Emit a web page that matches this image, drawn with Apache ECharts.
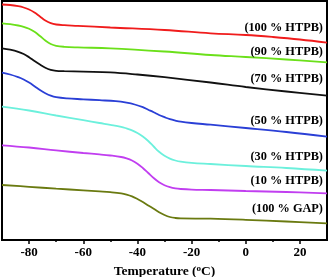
<!DOCTYPE html>
<html>
<head>
<meta charset="utf-8">
<script src="https://cdn.jsdelivr.net/npm/echarts@6/dist/echarts.min.js"></script>
<style>html,body{margin:0;padding:0;background:#fff}#c{width:330px;height:277px}</style>
</head>
<body>
<div id="c"></div>
<script>
var seriesNames = ['(100 % HTPB)', '(90 % HTPB)', '(70 % HTPB)', '(50 % HTPB)', '(30 % HTPB)', '(10 % HTPB)', '(100 % GAP)'];
var majorTicks = [-80, -60, -40, -20, 0, 20];
var minorTicks = [-70, -50, -30, -10, 10];

var htpb100 = [[-90,235.5],[-87,235],[-84,233.8],[-82,232.5],[-80,230.5],[-78,227.5],[-76,223.5],[-74,219.5],[-72,216.8],[-70,215.5],[-67,214.8],[-62,214.2],[-50,212.5],[-30,210],[-13,206.7],[0,205],[10,203],[20,200.5],[30,197.3]];
var htpb90 = [[-90,216.7],[-87,215.8],[-84,214.5],[-82,213.2],[-80,211.2],[-78,208.2],[-76,204],[-74,199.5],[-72,196],[-70,194.2],[-67,193.2],[-62,192.6],[-50,191.7],[-30,188.5],[-13,185],[0,183],[15,180.5],[30,177.7]];
var htpb70 = [[-90,191.7],[-87,190.3],[-84,188.2],[-82,186],[-80,182.8],[-78,179],[-76,175.5],[-74,172.3],[-72,170.2],[-70,169.2],[-67,168.8],[-60,168.3],[-50,167.6],[-40,165.5],[-30,162.8],[-13,157.5],[0,153],[15,148.5],[30,144.3]];
var htpb50 = [[-90,167.3],[-87,165.5],[-84,162.8],[-82,160.5],[-80,157.5],[-78,153.8],[-76,150],[-74,146.8],[-72,144.3],[-70,142.8],[-66,141.6],[-60,140.7],[-54,139.8],[-48,138.8],[-44,137.3],[-41,135.5],[-38,132.8],[-36,130.3],[-34,127.8],[-32,125],[-30,122.8],[-28,120.8],[-26,119.4],[-24,118.3],[-20,117],[-13,115.3],[0,112],[15,108],[30,103.3]];
var htpb30 = [[-90,133.3],[-80,129.5],[-70,124.5],[-60,119.8],[-54,117],[-50,115.2],[-46,113.2],[-44,111.6],[-42,109.7],[-40,107],[-38,103.5],[-36,99],[-34,93.5],[-32,88.2],[-30,84.3],[-28,81.4],[-26,79.5],[-24,78.3],[-20,77.1],[-13,76],[0,74],[15,72],[30,69.3]];
var htpb10 = [[-90,94.7],[-80,92.5],[-70,89.6],[-60,87],[-54,85.6],[-50,84.5],[-46,83],[-44,81.6],[-42,79.5],[-40,76.3],[-38,72],[-36,67],[-34,62],[-32,57.8],[-30,54.8],[-28,52.8],[-26,51.6],[-24,51],[-20,50.4],[-13,50],[0,49],[15,48],[30,46.7]];
var gap100 = [[-90,55],[-80,53.2],[-70,51.3],[-60,49.7],[-54,48.6],[-50,47.8],[-46,46.6],[-44,45.4],[-42,43.6],[-40,41],[-38,38],[-36,34.6],[-34,31.2],[-32,27.8],[-30,25],[-28,23],[-26,22],[-24,21.6],[-13,21.3],[0,20.2],[15,18.5],[30,16.7]];
var labelAnchors = [[28.5,212],[28.5,188.3],[28.5,161],[28.5,119.3],[28.5,83.3],[28.5,59],[28.5,30.7]];

var allData = [htpb100, htpb90, htpb70, htpb50, htpb30, htpb10, gap100];
var colors = ['#f01c1c', '#6be01a', '#111111', '#2a3fd6', '#6cf0dc', '#c13ef0', '#6a7a10'];
var font = '"Liberation Serif", "DejaVu Serif", serif';

var series = allData.map(function (d, i) {
  return {
    name: seriesNames[i],
    type: 'line',
    data: d,
    smooth: 0.4,
    showSymbol: false,
    lineStyle: { color: colors[i], width: 1.8 },
    markPoint: {
      symbol: 'circle',
      symbolSize: 0,
      data: [{ coord: labelAnchors[i] }],
      label: {
        show: true,
        formatter: seriesNames[i],
        position: [0, 0],
        align: 'right',
        verticalAlign: 'middle',
        color: '#000',
        fontFamily: font,
        fontWeight: 'bold',
        fontSize: 12.3
      }
    }
  };
});

var chart = echarts.init(document.getElementById('c'), null, { renderer: 'canvas' });
chart.setOption({
  animation: false,
  grid: { left: 2, right: 3, top: 1, bottom: 37, containLabel: false, outerBoundsMode: 'none', show: true, borderColor: '#000', borderWidth: 2, backgroundColor: 'transparent' },
  xAxis: [{
    type: 'value', min: -90, max: 30,
    axisLine: { show: false },
    splitLine: { show: false },
    axisTick: { show: true, length: 4, customValues: majorTicks, lineStyle: { color: '#000', width: 1.5 } },
    axisLabel: { customValues: majorTicks, color: '#000', fontFamily: font, fontWeight: 'bold', fontSize: 13, margin: 6 },
    name: 'Temperature ({sup|o}C)',
    nameLocation: 'middle',
    nameGap: 20,
    nameTextStyle: {
      color: '#000', fontFamily: font, fontWeight: 'bold', fontSize: 13.5,
      rich: { sup: { fontFamily: font, fontWeight: 'bold', fontSize: 9, verticalAlign: 'top', padding: [0, 0, 6, 0], color: '#000' } }
    }
  }, {
    type: 'value', min: -90, max: 30, position: 'bottom',
    axisLine: { show: false },
    splitLine: { show: false },
    axisTick: { show: true, length: 2, customValues: minorTicks, lineStyle: { color: '#000', width: 1.5 } },
    axisLabel: { show: false }
  }],
  yAxis: {
    type: 'value', min: 0, max: 239,
    axisLine: { show: false }, axisTick: { show: false }, axisLabel: { show: false }, splitLine: { show: false }
  },
  series: series
});
</script>
</body>
</html>
